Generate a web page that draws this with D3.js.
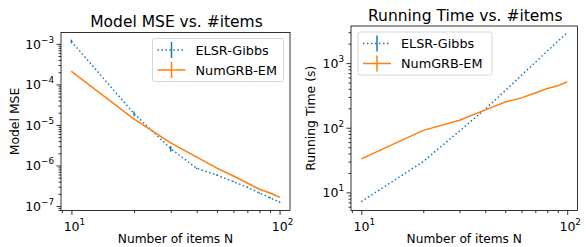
<!DOCTYPE html>
<html>
<head>
<meta charset="utf-8">
<script src="https://cdn.jsdelivr.net/npm/d3@7"></script>
<style>
  body { margin: 0; background: #fff; }
  text { font-family: "DejaVu Sans", sans-serif; fill: #000; }
</style>
</head>
<body>
<div id="chart"></div>
<script>
const itemsN = [10, 20, 30, 40, 50, 60, 70, 80, 90, 100];

// Model MSE
const mseGibbs = [1.15e-3, 1.9e-5, 2.6e-6, 8.5e-7, 5.8e-7, 4.0e-7, 2.9e-7, 2.1e-7, 1.6e-7, 1.25e-7];
const mseGibbsErr = [1.2e-4, 2.5e-6, 4e-7, 3e-8, 2e-8, 1e-8, 1e-8, 8e-9, 6e-9, 5e-9];
const mseEM = [2.1e-4, 1.4e-5, 3.6e-6, 1.6e-6, 8.6e-7, 5.5e-7, 3.7e-7, 2.6e-7, 2.1e-7, 1.65e-7];
const mseEMErr = [3e-6, 2e-7, 5e-8, 2e-8, 1e-8, 6e-9, 4e-9, 3e-9, 2e-9, 2e-9];

// Running time (s)
const timeGibbs = [7.2, 30, 89, 195, 375, 650, 1030, 1530, 2170, 2950];
const timeEM = [33, 91, 131, 189, 250, 290, 345, 404, 445, 515];

const seriesNames = ["ELSR-Gibbs", "NumGRB-EM"];
const colors = ["#1f77b4", "#ff7f0e"];

const W = 586, H = 247;
const svg = d3.select("#chart").append("svg")
    .attr("width", W)
    .attr("height", H);

function tickLabel(sel, v) {
    const e = Math.round(Math.log10(v));
    const t = sel.append("text");
    t.append("tspan").text("10");
    t.append("tspan")
        .attr("dy", -6)
        .style("font-size", "8.8px")
        .text(String(e).replace("-", "\u2212"));
    return t;
}

function drawPanel(opt) {
    const x = d3.scaleLog().domain(opt.xDomain).range([opt.left, opt.right]);
    const y = d3.scaleLog().domain(opt.yDomain).range([opt.bottom, opt.top]);
    const g = svg.append("g");

    // minor ticks
    const isMajor = v => Math.abs(Math.log10(v) - Math.round(Math.log10(v))) < 1e-9;
    const xTicks = x.ticks().filter(v => v >= opt.xDomain[0] && v <= opt.xDomain[1]);
    const yAll = [];
    for (let e = Math.floor(Math.log10(opt.yDomain[0])); e <= Math.ceil(Math.log10(opt.yDomain[1])); e++) {
        for (let m = 1; m < 10; m++) {
            const v = m * Math.pow(10, e);
            if (v >= opt.yDomain[0] && v <= opt.yDomain[1]) yAll.push(v);
        }
    }

    g.append("g")
        .attr("transform", `translate(0,${opt.bottom})`)
        .call(d3.axisBottom(x).tickValues(xTicks.filter(v => !isMajor(v))).tickSize(2.5).tickFormat(""))
        .call(a => a.select(".domain").remove())
        .call(a => a.selectAll("line").attr("stroke", "#000").attr("stroke-width", 0.8));
    g.append("g")
        .attr("transform", `translate(0,${opt.bottom})`)
        .call(d3.axisBottom(x).tickValues(xTicks.filter(isMajor)).tickSize(4.5).tickFormat(""))
        .call(a => a.select(".domain").remove())
        .call(a => a.selectAll("line").attr("stroke", "#000").attr("stroke-width", 0.8));
    g.append("g")
        .attr("transform", `translate(${opt.left},0)`)
        .call(d3.axisLeft(y).tickValues(yAll.filter(v => !isMajor(v))).tickSize(2.5).tickFormat(""))
        .call(a => a.select(".domain").remove())
        .call(a => a.selectAll("line").attr("stroke", "#000").attr("stroke-width", 0.8));
    g.append("g")
        .attr("transform", `translate(${opt.left},0)`)
        .call(d3.axisLeft(y).tickValues(yAll.filter(isMajor)).tickSize(4.5).tickFormat(""))
        .call(a => a.select(".domain").remove())
        .call(a => a.selectAll("line").attr("stroke", "#000").attr("stroke-width", 0.8));

    // tick labels
    xTicks.filter(isMajor).forEach(v => {
        tickLabel(g, v)
            .attr("x", x(v) + 3)
            .attr("y", opt.bottom + 20)
            .attr("text-anchor", "middle")
            .style("font-size", "12.5px");
    });
    yAll.filter(isMajor).forEach(v => {
        tickLabel(g, v)
            .attr("x", opt.left - 7)
            .attr("y", y(v) + 5)
            .attr("text-anchor", "end")
            .style("font-size", "12.5px");
    });

    // lines
    const line = d3.line().x(d => x(d[0])).y(d => y(d[1]));
    opt.series.forEach((s, i) => {
        const pts = itemsN.map((n, j) => [n, s.values[j]]);
        g.append("path")
            .datum(pts)
            .attr("d", line)
            .attr("fill", "none")
            .attr("stroke", colors[i])
            .attr("stroke-width", 1.5)
            .attr("stroke-dasharray", i === 0 ? "1.5,2.5" : null);
        if (s.err) {
            g.selectAll(null)
                .data(itemsN.map((n, j) => [n, s.values[j], s.err[j]]))
                .enter().append("line")
                .attr("x1", d => x(d[0])).attr("x2", d => x(d[0]))
                .attr("y1", d => y(d[1] + d[2]))
                .attr("y2", d => y(Math.max(d[1] - d[2], d[1] * 0.05)))
                .attr("stroke", colors[i])
                .attr("stroke-width", 1.5);
        }
    });

    // frame
    g.append("rect")
        .attr("x", opt.left).attr("y", opt.top)
        .attr("width", opt.right - opt.left).attr("height", opt.bottom - opt.top)
        .attr("fill", "none")
        .attr("stroke", "#000")
        .attr("stroke-width", 0.8);

    // legend
    const lg = g.append("g").attr("transform", `translate(${opt.legend[0]},${opt.legend[1]})`);
    lg.append("rect")
        .attr("x", 0).attr("y", 0)
        .attr("width", opt.legend[2]).attr("height", 43)
        .attr("rx", 2.5)
        .attr("fill", "#fff").attr("fill-opacity", 0.8)
        .attr("stroke", "#ccc").attr("stroke-width", 0.8);
    seriesNames.forEach((name, i) => {
        const ly = 11.5 + i * 20;
        lg.append("line")
            .attr("x1", 5).attr("x2", 33)
            .attr("y1", ly).attr("y2", ly)
            .attr("stroke", colors[i])
            .attr("stroke-width", 1.5)
            .attr("stroke-dasharray", i === 0 ? "1.5,2.5" : null);
        lg.append("line")
            .attr("x1", 19).attr("x2", 19)
            .attr("y1", ly - 8).attr("y2", ly + 8)
            .attr("stroke", colors[i])
            .attr("stroke-width", 1.5);
        lg.append("text")
            .attr("x", 43).attr("y", ly + 4.5)
            .style("font-size", "12.8px")
            .text(name);
    });

    // titles
    g.append("text")
        .attr("x", (opt.left + opt.right) / 2 + 1)
        .attr("y", opt.titleY)
        .attr("text-anchor", "middle")
        .style("font-size", "15.5px")
        .text(opt.title);
    g.append("text")
        .attr("x", (opt.left + opt.right) / 2)
        .attr("y", 243)
        .attr("text-anchor", "middle")
        .style("font-size", "12.2px")
        .text("Number of items N");
    g.append("text")
        .attr("transform", `translate(${opt.ylabelX},${(opt.top + opt.bottom) / 2}) rotate(-90)`)
        .attr("text-anchor", "middle")
        .style("font-size", "12.4px")
        .text(opt.ylabel);
}

drawPanel({
    left: 61, right: 290, top: 32.5, bottom: 210.5,
    xDomain: [Math.pow(10, 0.95), Math.pow(10, 2.05)],
    yDomain: [Math.pow(10, -7.11), Math.pow(10, -2.72)],
    series: [{values: mseGibbs, err: mseGibbsErr}, {values: mseEM, err: mseEMErr}],
    legend: [152.5, 38.5, 131],
    title: "Model MSE vs. #items",
    titleY: 27,
    ylabel: "Model MSE",
    ylabelX: 19
});

drawPanel({
    left: 351, right: 577.5, top: 26, bottom: 210.5,
    xDomain: [Math.pow(10, 0.95), Math.pow(10, 2.05)],
    yDomain: [Math.pow(10, 0.72), Math.pow(10, 3.574)],
    series: [{values: timeGibbs, err: null}, {values: timeEM, err: null}],
    legend: [358, 32, 134],
    title: "Running Time vs. #items",
    titleY: 21,
    ylabel: "Running Time (s)",
    ylabelX: 315
});
</script>
</body>
</html>
